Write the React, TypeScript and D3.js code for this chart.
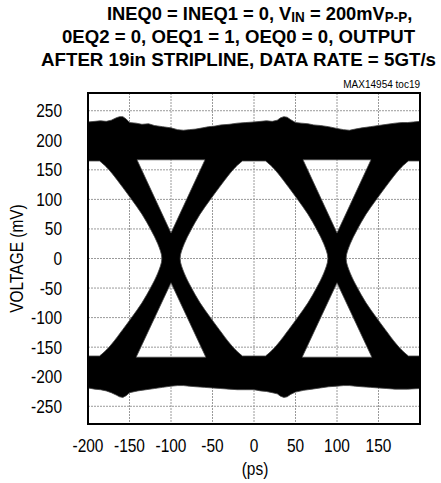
import React from "react";
import * as d3 from "d3";

// ---- data ----
const xTicks = [-200, -150, -100, -50, 0, 50, 100, 150];
const yTicks = [250, 200, 150, 100, 50, 0, -50, -100, -150, -200, -250];
const xDomain = [-200, 200];
const yDomain = [-280, 280];

// crossing points of the eye (ps) and eye centres (ps)
const crossings = [-100, 100];
const eyeCenters = [-200, 0, 200];

// eye opening: half width (ps) at each voltage level (mV)
const eyeLevels = [0, 25, 48, 75, 99, 120, 144, 155, 165];
const eyeHalfWidth = [89, 84, 76, 65, 53, 42, 29, 22, 14];

// triangles above / below each crossing: apex (mV), base (mV), base half width (ps)
const upperTriangle = { apex: 43, base: 167, half: 41 };
const lowerTriangle = { apex: -41, base: -167, half: 42 };

// upper edge of the "1" band (ps, mV)
const topEdgeT = [-200, -192, -185, -178, -172, -166, -162, -158, -154, -150, -142, -135, -127, -120, -110, -100, -92, -85, -78, -70, -62, -55, -47, -40, -30, -20, -10, 0, 8, 15, 22, 28, 32, 36, 40, 44, 50, 57, 65, 72, 80, 90, 100, 108, 115, 122, 130, 140, 150, 160, 170, 178, 185, 192, 200];
const topEdgeV = [231, 232, 233, 232, 234, 238, 240, 240, 236, 230, 229, 227, 228, 225, 223, 221, 218, 217, 218, 219, 221, 223, 224, 226, 227, 229, 230, 231, 232, 233, 232, 234, 238, 240, 239, 235, 230, 229, 228, 226, 225, 223, 220, 218, 217, 219, 221, 223, 225, 227, 229, 230, 230, 231, 232];

// lower edge of the "0" band (ps, mV)
const bottomEdgeT = [-200, -192, -185, -178, -172, -166, -162, -158, -154, -150, -140, -130, -120, -110, -100, -92, -85, -78, -70, -60, -50, -40, -30, -20, -10, 0, 8, 15, 22, 28, 32, 36, 40, 44, 50, 60, 70, 80, 90, 100, 108, 115, 122, 130, 140, 150, 160, 170, 185, 200];
const bottomEdgeV = [-219, -221, -222, -224, -227, -231, -234, -235, -232, -227, -224, -222, -220, -218, -216, -215, -215, -216, -217, -218, -219, -220, -221, -222, -222, -222, -224, -225, -227, -229, -233, -235, -234, -230, -226, -223, -221, -219, -217, -216, -215, -215, -216, -217, -218, -219, -220, -221, -221, -220];

// text
const titleLines = [
  "INEQ0 = INEQ1 = 0, V",
  "0EQ2 = 0, OEQ1 = 1, OEQ0 = 0, OUTPUT",
  "AFTER 19in STRIPLINE, DATA RATE = 5GT/s",
];
const yLabel = "VOLTAGE (mV)";
const xLabel = "(ps)";
const noteText = "MAX14954 toc19";

const W = 441;
const H = 483;
const PL = 88, PR = 420, PT = 93, PB = 424;

export default function App() {
  const x = d3.scaleLinear().domain(xDomain).range([PL, PR]);
  const y = d3.scaleLinear().domain(yDomain).range([PB, PT]);

  const line = d3.line<[number, number]>().x((d) => x(d[0])).y((d) => y(d[1]));
  const smooth = d3
    .line<[number, number]>()
    .x((d) => x(d[0]))
    .y((d) => y(d[1]))
    .curve(d3.curveCatmullRom.alpha(0.5));

  // outer band polygon (extended beyond the frame, clipped later)
  const top: [number, number][] = topEdgeT.map((t, i) => [t, topEdgeV[i]]);
  const bot: [number, number][] = bottomEdgeT.map((t, i) => [t, bottomEdgeV[i]]);
  const ext = 120;
  const outerPts: [number, number][] = [
    [xDomain[0] - ext, topEdgeV[0]],
    ...top,
    [xDomain[1] + ext, topEdgeV[topEdgeV.length - 1]],
    [xDomain[1] + ext, bottomEdgeV[bottomEdgeV.length - 1]],
    ...bot.slice().reverse(),
    [xDomain[0] - ext, bottomEdgeV[0]],
  ];
  let d = (line(outerPts) || "") + "Z";

  // eye openings
  const levels: number[] = [];
  const widths: number[] = [];
  for (let i = eyeLevels.length - 1; i >= 1; i--) {
    levels.push(-eyeLevels[i]);
    widths.push(eyeHalfWidth[i]);
  }
  eyeLevels.forEach((v, i) => {
    levels.push(v);
    widths.push(eyeHalfWidth[i]);
  });
  eyeCenters.forEach((c) => {
    const left: [number, number][] = levels.map((v, i) => [c - widths[i], v]);
    const right: [number, number][] = levels
      .map((v, i) => [c + widths[i], v] as [number, number])
      .reverse();
    d += (smooth(left) || "") + "L" + (smooth(right) || "").slice(1) + "Z";
  });

  // triangles
  crossings.forEach((c) => {
    [upperTriangle, lowerTriangle].forEach((t) => {
      const pts: [number, number][] = [
        [c - t.half, t.base],
        [c, t.apex],
        [c + t.half, t.base],
      ];
      d += (line(pts) || "") + "Z";
    });
  });

  const font = "'Liberation Sans', Arial, sans-serif";
  const lsx = 0.86; // label horizontal condense
  const t1sx = 0.965;

  return (
    <svg
      width={W}
      height={H}
      style={{ position: "absolute", left: 0, top: 0, background: "#fff" }}
      fontFamily={font}
    >
      <defs>
        <clipPath id="plotClip">
          <rect x={PL} y={PT} width={PR - PL} height={PB - PT} />
        </clipPath>
      </defs>
      <rect x={0} y={0} width={W} height={H} fill="#fff" />

      {/* title */}
      <g fontWeight="bold" fontSize={19} fill="#000">
        <g transform={`scale(${t1sx},1)`}>
          <text x={107 / t1sx} y={20}>
            {titleLines[0]}
            <tspan fontSize={14} dy={2}>IN</tspan>
            <tspan dy={-2}> = 200mV</tspan>
            <tspan fontSize={14} dy={2}>P-P</tspan>
            <tspan dy={-2}>,</tspan>
          </text>
        </g>
        <text x={62} y={43} textLength={353} lengthAdjust="spacingAndGlyphs">
          {titleLines[1]}
        </text>
        <text x={41} y={66} textLength={395} lengthAdjust="spacingAndGlyphs">
          {titleLines[2]}
        </text>
      </g>
      <text x={420} y={88} fontSize={10} textAnchor="end" fill="#000">
        {noteText}
      </text>

      {/* grid */}
      <g stroke="#9a9a9a" strokeWidth={1} strokeDasharray="2 1">
        {xTicks.map((t) => (
          <line key={"gx" + t} x1={x(t)} x2={x(t)} y1={PT} y2={PB} />
        ))}
        {yTicks.map((t) => (
          <line key={"gy" + t} x1={PL} x2={PR} y1={y(t)} y2={y(t)} />
        ))}
      </g>

      {/* eye diagram */}
      <g clipPath="url(#plotClip)">
        <path d={d} fill="#000" fillRule="evenodd" stroke="#444" strokeWidth={0.8} />
      </g>

      {/* frame */}
      <rect x={PL} y={PT} width={PR - PL} height={PB - PT} fill="none" stroke="#000" strokeWidth={2} />

      <g fontSize={18} fill="#000" transform={`scale(${lsx},1)`}>
        {/* y tick labels */}
        {yTicks.map((t) => (
          <text key={"yl" + t} x={62 / lsx} y={y(t)} dy="0.36em" textAnchor="end">
            {t}
          </text>
        ))}
        {/* x tick labels */}
        {xTicks.map((t) => (
          <text key={"xl" + t} x={x(t) / lsx} y={452} textAnchor="middle">
            {t}
          </text>
        ))}
        <text x={255 / lsx} y={475} textAnchor="middle">
          {xLabel}
        </text>
      </g>
      <text
        transform={`translate(23, ${(PT + PB) / 2}) rotate(-90) scale(${lsx},1)`}
        fontSize={18}
        textAnchor="middle"
      >
        {yLabel}
      </text>
    </svg>
  );
}
